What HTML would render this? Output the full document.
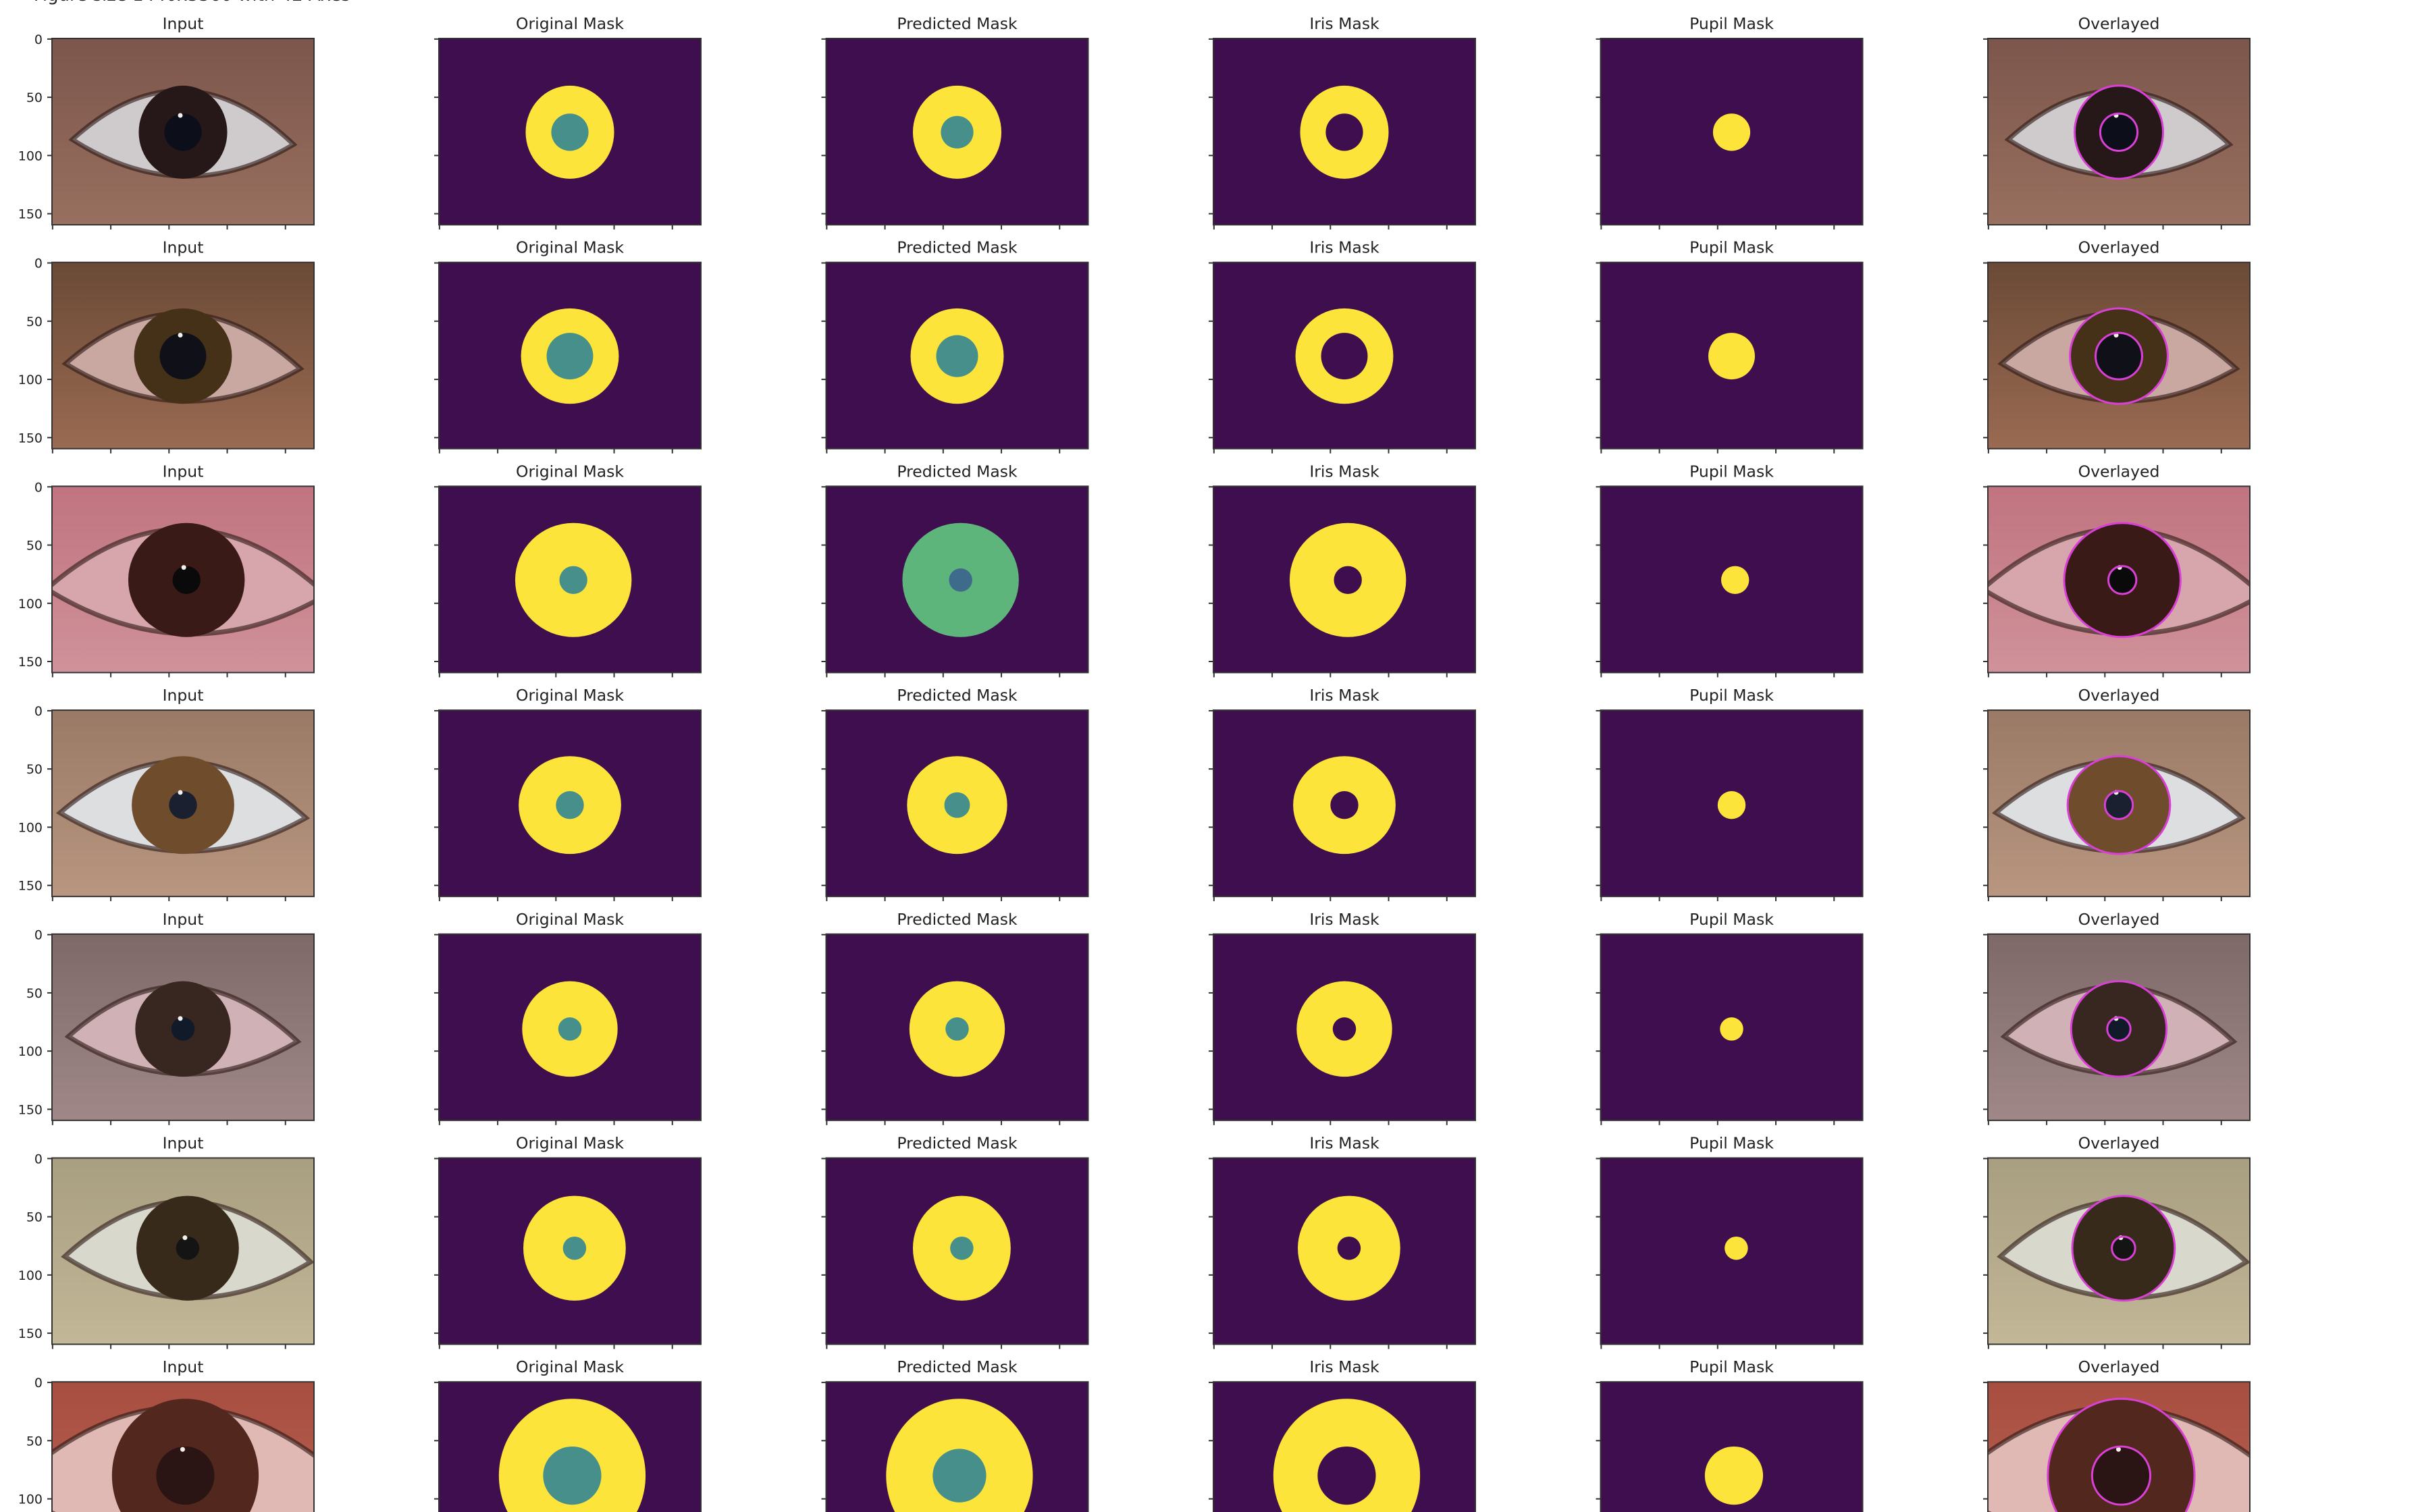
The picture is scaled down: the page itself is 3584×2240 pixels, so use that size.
<!DOCTYPE html>
<html><head><meta charset="utf-8">
<style>
html,body{margin:0;padding:0;background:#fff;}
svg{display:block;}
text{font-family:"DejaVu Sans","Liberation Sans",sans-serif;}
</style></head>
<body>
<svg id="fig" width="3584" height="2240" viewBox="0 0 3584 2240" xmlns="http://www.w3.org/2000/svg">
<text x="28" y="1" font-family="Liberation Mono, monospace" font-size="26" fill="#222">&lt;Figure size 1440x3360 with 42 Axes&gt;</text>
</svg>
<script>
// ---- data (image pixel coords, image is 225 x 160) ----
const columnTitles = ["Input","Original Mask","Predicted Mask","Iris Mask","Pupil Mask","Overlayed"];
const yTickLabels = [0,50,100,150];
const xTickValues = [0,50,100,150,200];
const irisCx = [112,112,115,112,112,116,114];
const irisCy = [80,80,80,81,81,77,80];
const irisRx = [38,42,50,44,41,44,63];
const irisRy = [40,41,49,42,41,45,66];
const pupilR = [16,20,12,12,10,10,25];
const predIrisRx = [38,40,50,43,41,42,63];
const predPupilR = [14,18,10,11,10,10,23];
// styling per row (not data)
const skinCol = ["#7c564c","#6a4a36","#c07480","#9a7a66","#7e6868","#a89e80","#a84e40"];
const skinCol2= ["#98705f","#9a6a52","#d0929a","#b89680","#a08888","#c2b898","#b86454"];
const scleraCol=["#cfcacc","#caa8a2","#d6a6ac","#dcdee0","#d0b2b6","#d8d8cc","#e0b8b4"];
const irisCol = ["#261818","#453018","#3a1a16","#6e4c2c","#382620","#382a1a","#52281e"];
const pupCol  = ["#0c0e1a","#101018","#0a0a0a","#1a2030","#101a28","#141414","#2a1414"];

const NS="http://www.w3.org/2000/svg";
const svg=document.getElementById('fig');
const colLeft=[77,650,1223.5,1797,2370.5,2944];
const axW=388, axH=276, rowTop0=57, rowPitch=331.7;
const IW=225, IH=160;
function el(tag,attrs,parent){const e=document.createElementNS(NS,tag);for(const k in attrs)e.setAttribute(k,attrs[k]);(parent||svg).appendChild(e);return e;}

const defs=el('defs',{});
for(let r=0;r<irisCx.length;r++){
  const top=rowTop0+r*rowPitch;
  for(let c=0;c<6;c++){
    const left=colLeft[c];
    const sx=v=>left+(v+0.5)*axW/IW, sy=v=>top+(v+0.5)*axH/IH;
    const kx=axW/IW, ky=axH/IH;
    const cp=el('clipPath',{id:`cp${r}_${c}`},defs);
    el('rect',{x:left,y:top,width:axW,height:axH},cp);
    const g=el('g',{'clip-path':`url(#cp${r}_${c})`});
    
    
    const cx=sx(irisCx[r]), cy=sy(irisCy[r]);
    if(c===0||c===5){
      const gid=`sk${r}_${c}`;
      const lg=el('linearGradient',{id:gid,x1:0,y1:0,x2:0,y2:1},defs);
      el('stop',{offset:'0',  'stop-color':skinCol[r]},lg);
      el('stop',{offset:'1','stop-color':skinCol2[r]},lg);
      el('rect',{x:left,y:top,width:axW,height:axH,fill:`url(#${gid})`},g);
      const ex=Math.max(irisRx[r]*2.4,95)*kx, ey=irisRy[r]*1.05*ky;
      el('path',{d:`M${cx-ex},${cy+ey*0.15} Q${cx},${cy-ey*1.9} ${cx+ex},${cy+ey*0.25} Q${cx},${cy+ey*1.6} ${cx-ex},${cy+ey*0.15}Z`,fill:scleraCol[r],stroke:'#2a1612','stroke-width':7,'stroke-opacity':0.6},g);
      el('ellipse',{cx:cx,cy:cy,rx:irisRx[r]*kx,ry:irisRy[r]*ky,fill:irisCol[r]},g);
      el('circle',{cx:cx,cy:cy,r:pupilR[r]*kx,fill:pupCol[r]},g);
      el('circle',{cx:cx-4,cy:cy-pupilR[r]*ky*0.9,r:3.5,fill:'#f4f0ea'},g);
      if(c===5){
        const o=el('ellipse',{cx:cx,cy:cy,rx:irisRx[r]*kx,ry:irisRy[r]*ky,fill:'none',stroke:'#d940d6','stroke-width':3},g);
        
        
        const p=el('circle',{cx:cx,cy:cy,r:pupilR[r]*kx,fill:'none',stroke:'#d940d6','stroke-width':3},g);
        
        
      }
    } else {
      el('rect',{x:left,y:top,width:axW,height:axH,fill:'#3f0e4e'},g);
      let ringCol='#fde43b', pupC='#478f8b', rx=irisRx[r], pr=pupilR[r];
      if(c===2){rx=predIrisRx[r];pr=predPupilR[r]; if(r===2){ringCol='#5db57c';pupC='#3e6a8c';}}
      if(c===3) pupC='#3f0e4e';
      if(c!==4) el('ellipse',{cx:cx,cy:cy,rx:rx*kx,ry:irisRy[r]*ky,fill:ringCol},g);
      const pc=(c===4)?'#fde43b':pupC;
      el('ellipse',{cx:cx,cy:cy,rx:pr*kx,ry:pr*ky,fill:pc},g);
    }
    el('rect',{x:left,y:top,width:axW,height:axH,fill:'none',stroke:'#333','stroke-width':2});
    const t=el('text',{x:left+axW/2,y:top-14,'text-anchor':'middle','font-size':23.5,fill:'#222'});
    t.textContent=columnTitles[c];
    
    
    yTickLabels.forEach(v=>{
      const y=sy(v);
      if(y>2240) return;
      el('line',{x1:left-7,y1:y,x2:left,y2:y,stroke:'#333','stroke-width':2});
      if(c===0){
        const tl=el('text',{x:left-14,y:y+7,'text-anchor':'end','font-size':19,fill:'#222'});
        tl.textContent=v;
        
        
      }
    });
    xTickValues.forEach(v=>{
      const x=sx(v);
      el('line',{x1:x,y1:top+axH,x2:x,y2:top+axH+7,stroke:'#333','stroke-width':2});
    });
  }
}
</script>
</body></html>
